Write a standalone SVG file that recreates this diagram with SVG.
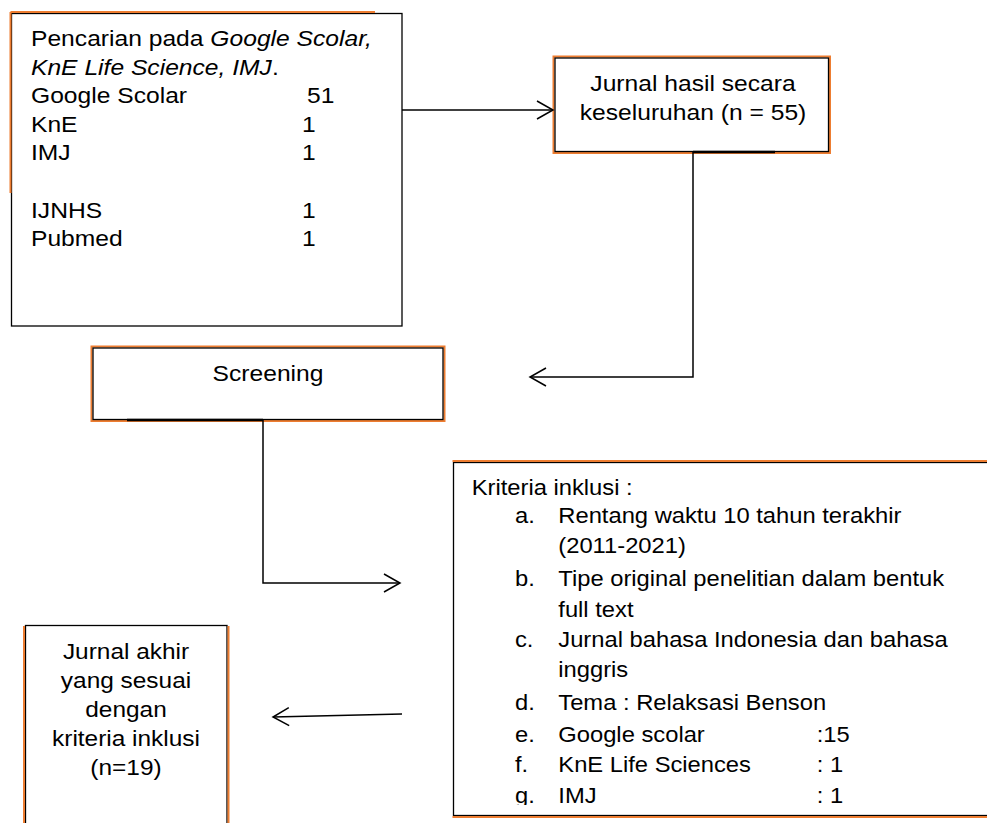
<svg xmlns="http://www.w3.org/2000/svg" width="987" height="823" viewBox="0 0 987 823">
<style>
.t{font-family:"Liberation Sans",Arial,sans-serif;font-size:22px;fill:#000}
.m{text-anchor:middle}
.i{font-style:italic}
.box{fill:#fff;stroke:#000;stroke-width:1.3}
.or{stroke:#ED7D31;stroke-width:2;fill:none}
.c{fill:none;stroke:#000;stroke-width:1.5}
.thick{stroke:#000;stroke-width:2.5}
</style>
<defs>
<marker id="ah" markerUnits="userSpaceOnUse" markerWidth="24" markerHeight="24" viewBox="-20 -12 24 24" refX="0" refY="0" orient="auto">
<path d="M-16,-9 L0,0 L-16,9" fill="none" stroke="#000" stroke-width="1.5"/>
</marker>
<clipPath id="kc"><rect x="453" y="462" width="534" height="343"/></clipPath>
</defs>
<rect width="987" height="823" fill="#fff"/>

<g id="search">
<rect class="box" x="11.5" y="13.5" width="390.5" height="312.5"/>
<path class="or" d="M10.5,12 H375 M10.5,12 V193"/>
<text class="t" transform="translate(31,46) scale(1.12,1)">Pencarian pada <tspan class="i">Google Scolar,</tspan></text>
<text class="t" transform="translate(31,74.6) scale(1.12,1)"><tspan class="i">KnE Life Science, IMJ</tspan>.</text>
<text class="t" transform="translate(31,103.2) scale(1.12,1)">Google Scolar</text>
<text class="t" transform="translate(307,103.2) scale(1.12,1)">51</text>
<text class="t" transform="translate(31,131.8) scale(1.12,1)">KnE</text>
<text class="t" transform="translate(302,131.8) scale(1.12,1)">1</text>
<text class="t" transform="translate(31,160.4) scale(1.12,1)">IMJ</text>
<text class="t" transform="translate(302,160.4) scale(1.12,1)">1</text>
<text class="t" transform="translate(31,217.6) scale(1.12,1)">IJNHS</text>
<text class="t" transform="translate(302,217.6) scale(1.12,1)">1</text>
<text class="t" transform="translate(31,246.2) scale(1.12,1)">Pubmed</text>
<text class="t" transform="translate(302,246.2) scale(1.12,1)">1</text>
</g>

<g id="total">
<rect class="or" x="553.5" y="56.5" width="276.5" height="96.5"/>
<rect class="box" x="555" y="58" width="273.5" height="93.5"/>
<text class="t m" transform="translate(693,90.7) scale(1.12,1)">Jurnal hasil secara</text>
<text class="t m" transform="translate(693,120) scale(1.12,1)">keseluruhan (n = 55)</text>
</g>

<g id="screening">
<rect class="or" x="91.5" y="346.5" width="353" height="74.5"/>
<rect class="box" x="93" y="348" width="350" height="71.5"/>
<text class="t m" transform="translate(268,381) scale(1.12,1)">Screening</text>
</g>

<g id="criteria">
<rect class="box" x="453.5" y="462.5" width="540" height="353"/>
<path class="or" d="M452.5,461 H987 M452.5,817 H987"/>
<g clip-path="url(#kc)">
<text class="t" transform="translate(471.7,495) scale(1.08,1)">Kriteria inklusi :</text>
<text class="t" transform="translate(515,523.3) scale(1.08,1)">a.</text>
<text class="t" transform="translate(558.3,523.3) scale(1.08,1)">Rentang waktu 10 tahun terakhir</text>
<text class="t" transform="translate(558.3,553.3) scale(1.08,1)">(2011-2021)</text>
<text class="t" transform="translate(515,586) scale(1.08,1)">b.</text>
<text class="t" transform="translate(558.3,586) scale(1.08,1)">Tipe original penelitian dalam bentuk</text>
<text class="t" transform="translate(558.3,616.7) scale(1.08,1)">full text</text>
<text class="t" transform="translate(515,647.3) scale(1.08,1)">c.</text>
<text class="t" transform="translate(558.3,647.3) scale(1.08,1)">Jurnal bahasa Indonesia dan bahasa</text>
<text class="t" transform="translate(558.3,677.3) scale(1.08,1)">inggris</text>
<text class="t" transform="translate(515,710) scale(1.08,1)">d.</text>
<text class="t" transform="translate(558.3,710) scale(1.08,1)">Tema : Relaksasi Benson</text>
<text class="t" transform="translate(515,741.7) scale(1.08,1)">e.</text>
<text class="t" transform="translate(558.3,741.7) scale(1.08,1)">Google scolar</text>
<text class="t" transform="translate(816.7,741.7) scale(1.08,1)">:15</text>
<text class="t" transform="translate(515,772.3) scale(1.08,1)">f.</text>
<text class="t" transform="translate(558.3,772.3) scale(1.08,1)">KnE Life Sciences</text>
<text class="t" transform="translate(816.7,772.3) scale(1.08,1)">: 1</text>
<text class="t" transform="translate(515,802.7) scale(1.08,1)">g.</text>
<text class="t" transform="translate(558.3,802.7) scale(1.08,1)">IMJ</text>
<text class="t" transform="translate(816.7,802.7) scale(1.08,1)">: 1</text>
</g>
</g>

<g id="final">
<rect class="box" x="25.5" y="625.5" width="201.5" height="220"/>
<path class="or" d="M24,626 V823 M228.5,626 V823"/>
<text class="t m" transform="translate(126,659.3) scale(1.11,1)">Jurnal akhir</text>
<text class="t m" transform="translate(126,688.3) scale(1.11,1)">yang sesuai</text>
<text class="t m" transform="translate(126,717.3) scale(1.11,1)">dengan</text>
<text class="t m" transform="translate(126,746.3) scale(1.11,1)">kriteria inklusi</text>
<text class="t m" transform="translate(126,775.3) scale(1.11,1)">(n=19)</text>
</g>

<g id="connectors">
<path class="c" d="M402,110 H553" marker-end="url(#ah)"/>
<line class="thick" x1="693" y1="152" x2="775" y2="152"/>
<path class="c" d="M693,152 V377 H530" marker-end="url(#ah)"/>
<line class="thick" x1="127" y1="420" x2="263" y2="420"/>
<path class="c" d="M263,420 V583 H400" marker-end="url(#ah)"/>
<path class="c" d="M402,714 L273,717" marker-end="url(#ah)"/>
</g>
</svg>
